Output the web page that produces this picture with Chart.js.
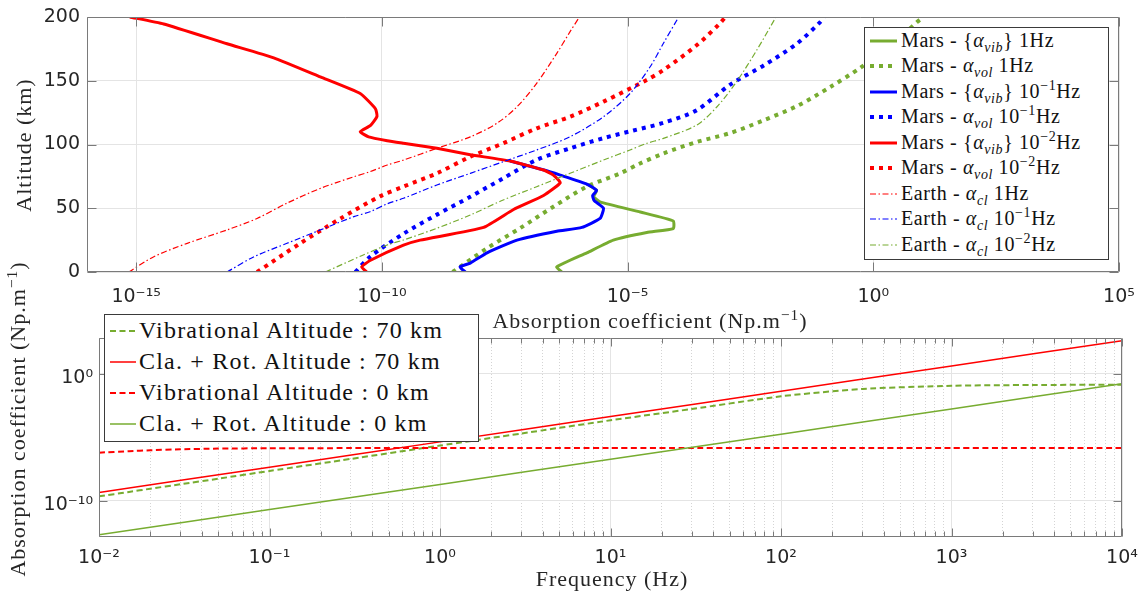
<!DOCTYPE html>
<html>
<head>
<meta charset="utf-8">
<title>Absorption coefficient - Mars / Earth</title>
<script src="https://cdn.jsdelivr.net/npm/chart.js@4.4.1/dist/chart.umd.min.js"></script>
<style>
  body { margin: 0; background: #fff; }
  #fig { position: relative; width: 1145px; height: 596px; overflow: hidden; background: #fff; }
  #fig canvas { position: absolute; left: 0; top: 0; }
  .lbl { position: absolute; font-family: 'Liberation Serif', serif; font-size: 22px; letter-spacing: 1px;
         color: #262626; white-space: nowrap; transform: translate(-50%, -50%); }
  .rot { transform: translate(-50%, -50%) rotate(-90deg); }
  .legend { position: absolute; background: #fff; border: 1px solid #3a3a3a; box-sizing: border-box;
            font-family: 'Liberation Serif', serif; color: #111; }
  .legend .row { position: absolute; white-space: nowrap; }
  .legend svg { position: absolute; }
  sub, sup { font-size: 70%; line-height: 0; }
</style>
</head>
<body>
<div id="fig">
  <canvas id="graficoTop" width="1145" height="596"></canvas>
  <canvas id="graficoBottom" width="1145" height="596"></canvas>

  <div class="lbl rot" style="left:24px; top:145px;">Altitude (km)</div>
  <div class="lbl" style="left:650px; top:321px;">Absorption coefficient (Np.m<sup>−1</sup>)</div>
  <div class="lbl" style="left:612px; top:579px;">Frequency (Hz)</div>
  <div class="lbl rot" style="left:18px; top:419px;">Absorption coefficient (Np.m<sup>−1</sup>)</div>

  <div id="legendTop" class="legend" style="left:864px; top:27px; width:245px; height:233px; font-size:20px; letter-spacing:0.6px;"></div>
  <div id="legendBottom" class="legend" style="left:104px; top:314px; width:375px; height:128px; font-size:24px; letter-spacing:1.2px;"></div>
</div>

<script>
// colores
const GREEN = '#77AC30'
const BLUE = '#0000FF'
const RED = '#FF0000'

// ---------- panel superior: altitud (km) / log10 del coeficiente (Np/m) ----------
// Mars - {alpha_vib} 1Hz (por encima de ~65 km sigue la curva de 10^-1 Hz)
const altVib1 = [0, 4, 15, 25, 31, 34, 40, 47, 55, 59, 64, 69]
const vib1 = [-6.34, -6.44, -5.83, -5.29, -4.61, -4.07, -4.07, -4.74, -5.56, -5.69, -5.63, -5.83]
// Mars - {alpha_vib} 10^-1 Hz (por encima de ~80 km sigue la curva de 10^-2 Hz)
const altVib01 = [0, 4, 7, 15, 25, 32, 35, 42, 50, 56, 60, 64, 69, 76, 80, 87]
const vib01 = [-8.30, -8.41, -8.20, -7.86, -7.25, -6.44, -5.93, -5.56, -5.49, -5.68, -5.71, -5.63, -5.83, -6.37, -6.70, -7.39]
// Mars - {alpha_vib} 10^-2 Hz
const altVib001 = [0, 4, 9, 21, 25, 35, 49, 60, 70, 76, 80, 87, 92, 97, 101, 103, 106, 110, 115, 122, 128, 140, 153, 168, 179, 194.5, 200]
const vib001 = [-10.31, -10.41, -10.24, -9.56, -9.22, -7.93, -7.32, -6.71, -6.37, -6.51, -6.71, -7.39, -8.20, -8.88, -9.56, -9.89, -10.27, -10.44, -10.23, -10.10, -10.13, -10.44, -11.25, -12.20, -13.15, -14.44, -15.13]

// Mars - alpha_vol
const altVol1 = [0, 18.6, 34.3, 51.2, 66.9, 77.4, 84.5, 93, 102, 109, 119, 130, 145, 160, 170, 180, 190, 196, 200]
const vol1 = [-8.56, -7.86, -7.19, -6.51, -5.83, -5.15, -4.78, -4.27, -3.59, -2.91, -2.23, -1.56, -0.88, -0.27, 0.07, 0.41, 0.72, 0.89, 1.02]
const altVol01 = [0, 12, 30, 45, 59, 73.5, 88, 97, 105, 111, 117, 127, 147, 162, 179, 196, 200]
const vol01 = [-10.54, -10.24, -9.56, -8.88, -8.20, -7.53, -6.85, -6.17, -5.49, -4.88, -4.27, -3.59, -2.91, -2.23, -1.56, -1.08, -1.01]
const altVol001 = [0, 22.5, 42, 59.5, 67, 77.4, 90.4, 101, 112.7, 121.8, 133.6, 150.6, 158.4, 178, 195, 200]
const vol001 = [-12.54, -11.66, -10.84, -10.03, -9.56, -8.88, -8.20, -7.53, -6.85, -6.17, -5.49, -4.61, -4.27, -3.59, -3.12, -3.01]

// Earth - alpha_cl
const altCl1 = [0, 12, 22.5, 33, 42, 54, 65.6, 74.7, 78.7, 83.9, 87.8, 97, 106, 116.6, 129.6, 148, 171.5, 188.5, 200]
const cl1 = [-15.15, -14.64, -13.96, -13.15, -12.54, -11.93, -11.25, -10.57, -10.24, -9.89, -9.56, -8.88, -8.20, -7.66, -7.25, -6.85, -6.44, -6.17, -5.98]
const altCl01 = [0, 12, 22.5, 33, 43.4, 47.3, 53.5, 57.8, 68.2, 77.4, 86.5, 95.7, 106.1, 121.8, 140, 161, 179.4, 200]
const cl01 = [-13.15, -12.60, -11.93, -11.25, -10.57, -10.24, -9.89, -9.56, -8.88, -8.20, -7.53, -6.85, -6.17, -5.49, -4.95, -4.54, -4.27, -3.96]
const altCl001 = [0, 13, 21.2, 25.1, 34.3, 44.7, 56.5, 66.9, 77.4, 87.8, 95.7, 100.9, 104.8, 115.3, 129.6, 149.3, 174.1, 200]
const cl001 = [-11.15, -10.40, -9.89, -9.56, -8.88, -8.20, -7.53, -6.85, -6.17, -5.49, -4.95, -4.61, -4.27, -3.59, -3.18, -2.78, -2.37, -1.98]

const topXTicks = [-15, -10, -5, 0, 5]
const topYTicks = [0, 50, 100, 150, 200]

// ---------- panel inferior: frecuencia (Hz) / log10 del coeficiente ----------
const freqDec = [0.01, 0.1, 1, 10, 100, 1000, 10000]
const claRot70 = [-9.35, -7.36, -5.37, -3.38, -1.38, 0.61, 2.60]
const claRot0 = [-12.68, -10.70, -8.72, -6.74, -4.76, -2.78, -0.79]
const freqVib = [0.01, 0.015, 0.02, 0.03, 0.05, 0.1, 0.3, 1, 3, 10, 30, 100, 300, 1000, 3000, 10000]
const vibAlt70 = [-9.66, -9.31, -9.06, -8.71, -8.27, -7.66, -6.71, -5.66, -4.71, -3.67, -2.78, -1.78, -1.20, -0.95, -0.89, -0.87]
const vibAlt0 = [-6.22, -6.10, -6.03, -5.95, -5.90, -5.87, -5.86, -5.85, -5.85, -5.85, -5.85, -5.85, -5.85, -5.85, -5.85, -5.85]

const botXTicks = [-2, -1, 0, 1, 2, 3, 4]
const botYTicks = [-10, 0]

// ---------- utilidades ----------
const SUP = {'-': '⁻', '0': '⁰', '1': '¹', '2': '²', '3': '³', '4': '⁴', '5': '⁵', '6': '⁶', '7': '⁷', '8': '⁸', '9': '⁹'}
const pow10Label = v => '10' + String(Math.round(Math.log10(v))).split('').map(c => SUP[c]).join('')
const isDecade = v => Math.abs(Math.log10(v) - Math.round(Math.log10(v))) < 1e-6
const profile = (alt, lg) => alt.map((a, i) => ({x: Math.pow(10, lg[i]), y: a}))
const spectrum = (f, lg) => f.map((v, i) => ({x: v, y: Math.pow(10, lg[i])}))

const TICK_FONT = {family: "'DejaVu Sans', sans-serif", size: 19}
const TICK_COLOR = '#262626'
const GRID = '#e4e4e4'

// marco y marcas interiores, estilo MATLAB
const framePlugin = {
  id: 'frame',
  afterDraw(chart, args, opts) {
    const {ctx, chartArea: a, scales} = chart
    const L = Math.round(a.left) + 0.5, R = Math.round(a.right) - 0.5
    const T = Math.round(a.top) + 0.5, B = Math.round(a.bottom) - 0.5
    ctx.save()
    ctx.strokeStyle = opts.color
    ctx.lineWidth = 1
    ctx.beginPath()
    scales.x.ticks.forEach(t => {
      const p = Math.round(scales.x.getPixelForValue(t.value)) + 0.5
      const len = opts.minorX && !isDecade(t.value) ? opts.minor : opts.major
      ctx.moveTo(p, B); ctx.lineTo(p, B - len)
      ctx.moveTo(p, T); ctx.lineTo(p, T + len)
    })
    scales.y.ticks.forEach(t => {
      const p = Math.round(scales.y.getPixelForValue(t.value)) + 0.5
      ctx.moveTo(L, p); ctx.lineTo(L + opts.major, p)
      ctx.moveTo(R, p); ctx.lineTo(R - opts.major, p)
    })
    ctx.rect(L, T, R - L, B - T)
    ctx.stroke()
    ctx.restore()
  }
}

const STYLE = {
  vib: {borderWidth: 3, borderDash: [], tension: 0.15},
  vol: {borderWidth: 4, borderDash: [4, 5], tension: 0.3},
  cl: {borderWidth: 1.2, borderDash: [6, 2.5, 1.5, 2.5], tension: 0.3}
}

const topSeries = [
  {label: 'Mars - {α_vib} 1Hz', html: 'Mars - {<i>α</i><sub><i>vib</i></sub>} 1Hz', data: profile(altVib1, vib1), color: GREEN, kind: 'vib'},
  {label: 'Mars - α_vol 1Hz', html: 'Mars - <i>α</i><sub><i>vol</i></sub> 1Hz', data: profile(altVol1, vol1), color: GREEN, kind: 'vol'},
  {label: 'Mars - {α_vib} 10^-1Hz', html: 'Mars - {<i>α</i><sub><i>vib</i></sub>} 10<sup>−1</sup>Hz', data: profile(altVib01, vib01), color: BLUE, kind: 'vib'},
  {label: 'Mars - α_vol 10^-1Hz', html: 'Mars - <i>α</i><sub><i>vol</i></sub> 10<sup>−1</sup>Hz', data: profile(altVol01, vol01), color: BLUE, kind: 'vol'},
  {label: 'Mars - {α_vib} 10^-2Hz', html: 'Mars - {<i>α</i><sub><i>vib</i></sub>} 10<sup>−2</sup>Hz', data: profile(altVib001, vib001), color: RED, kind: 'vib'},
  {label: 'Mars - α_vol 10^-2Hz', html: 'Mars - <i>α</i><sub><i>vol</i></sub> 10<sup>−2</sup>Hz', data: profile(altVol001, vol001), color: RED, kind: 'vol'},
  {label: 'Earth - α_cl 1Hz', html: 'Earth - <i>α</i><sub><i>cl</i></sub> 1Hz', data: profile(altCl1, cl1), color: RED, kind: 'cl'},
  {label: 'Earth - α_cl 10^-1Hz', html: 'Earth - <i>α</i><sub><i>cl</i></sub> 10<sup>−1</sup>Hz', data: profile(altCl01, cl01), color: BLUE, kind: 'cl'},
  {label: 'Earth - α_cl 10^-2Hz', html: 'Earth - <i>α</i><sub><i>cl</i></sub> 10<sup>−2</sup>Hz', data: profile(altCl001, cl001), color: GREEN, kind: 'cl'}
]

const bottomSeries = [
  {label: 'Vibrational Altitude : 70 km', data: spectrum(freqVib, vibAlt70), color: GREEN, width: 2, dash: [6, 3.5]},
  {label: 'Cla. + Rot. Altitude : 70 km', data: spectrum(freqDec, claRot70), color: RED, width: 1.5, dash: []},
  {label: 'Vibrational Altitude : 0 km', data: spectrum(freqVib, vibAlt0), color: RED, width: 2, dash: [6, 3.5]},
  {label: 'Cla. + Rot. Altitude : 0 km', data: spectrum(freqDec, claRot0), color: GREEN, width: 1.5, dash: []}
]

// ejes con tamaño fijo para que el área de trazado quede donde debe
const fixY = w => s => { s.width = w; s.paddingTop = 0; s.paddingBottom = 0 }
const fixX = h => s => { s.height = h; s.paddingLeft = 0; s.paddingRight = 0 }

const baseOptions = {
  responsive: false,
  animation: false,
  devicePixelRatio: 1,
  plugins: {legend: {display: false}, tooltip: {enabled: false}},
  elements: {point: {radius: 0}}
}

// Generar gráfico superior
const generateTopChart = () => {
  const canvas = document.getElementById('graficoTop')
  return new Chart(canvas, {
    type: 'scatter',
    data: {
      datasets: topSeries.map((s, i) => ({
        label: s.label,
        data: s.data,
        showLine: true,
        borderColor: s.color,
        backgroundColor: s.color,
        borderWidth: STYLE[s.kind].borderWidth,
        borderDash: STYLE[s.kind].borderDash,
        tension: STYLE[s.kind].tension,
        pointRadius: 0,
        order: topSeries.length - i
      }))
    },
    options: {
      ...baseOptions,
      layout: {autoPadding: false, padding: {left: 0, top: 17, right: 26, bottom: 274}},
      scales: {
        x: {
          type: 'logarithmic',
          min: 1e-16,
          max: 1e5,
          bounds: 'data',
          afterBuildTicks: s => { s.ticks = topXTicks.map(e => ({value: Math.pow(10, e)})) },
          afterFit: fixX(50),
          ticks: {callback: v => pow10Label(v), font: TICK_FONT, color: TICK_COLOR, padding: 14, maxRotation: 0, autoSkip: false},
          grid: {color: GRID, drawTicks: false},
          border: {display: false}
        },
        y: {
          type: 'linear',
          min: 0,
          max: 200,
          afterBuildTicks: s => { s.ticks = topYTicks.map(v => ({value: v})) },
          afterFit: fixY(87),
          ticks: {font: TICK_FONT, color: TICK_COLOR, padding: 7},
          grid: {color: GRID, drawTicks: false},
          border: {display: false}
        }
      },
      plugins: {...baseOptions.plugins, frame: {color: '#7a7a7a', major: 9, minor: 5}}
    },
    plugins: [framePlugin]
  })
}

// Generar gráfico inferior
const generateBottomChart = () => {
  const canvas = document.getElementById('graficoBottom')
  return new Chart(canvas, {
    type: 'scatter',
    data: {
      datasets: bottomSeries.map((s, i) => ({
        label: s.label,
        data: s.data,
        showLine: true,
        borderColor: s.color,
        backgroundColor: s.color,
        borderWidth: s.width,
        borderDash: s.dash,
        tension: 0.2,
        pointRadius: 0,
        order: bottomSeries.length - i
      }))
    },
    options: {
      ...baseOptions,
      layout: {autoPadding: false, padding: {left: 0, top: 338, right: 23, bottom: 9}},
      scales: {
        x: {
          type: 'logarithmic',
          min: 1e-2,
          max: 1e4,
          bounds: 'data',
          afterBuildTicks: s => {
            const t = []
            botXTicks.forEach(e => {
              for (let m = 1; m <= 9; m++) {
                if (e === botXTicks[botXTicks.length - 1] && m > 1) break
                t.push({value: m * Math.pow(10, e)})
              }
            })
            s.ticks = t
          },
          afterFit: fixX(50),
          ticks: {callback: v => isDecade(v) ? pow10Label(v) : '', font: TICK_FONT, color: TICK_COLOR, padding: 10, maxRotation: 0, autoSkip: false},
          grid: {color: c => c.tick && isDecade(c.tick.value) ? GRID : '#d4d4d4', drawTicks: false},
          border: {display: false, dash: c => c.tick && !isDecade(c.tick.value) ? [1, 2] : []}
        },
        y: {
          type: 'logarithmic',
          min: Math.pow(10, -12.86),
          max: Math.pow(10, 2.81),
          bounds: 'data',
          afterBuildTicks: s => { s.ticks = botYTicks.map(e => ({value: Math.pow(10, e)})) },
          afterFit: fixY(99),
          ticks: {callback: v => pow10Label(v), font: TICK_FONT, color: TICK_COLOR, padding: 6, labelOffset: 4},
          grid: {color: GRID, drawTicks: false},
          border: {display: false}
        }
      },
      plugins: {...baseOptions.plugins, frame: {color: '#7a7a7a', major: 8, minor: 5, minorX: true}}
    },
    plugins: [framePlugin]
  })
}

// leyenda HTML (texto con subíndices como en LaTeX)
const buildLegend = (el, chart, htmlLabels, rowTop, rowGap, sampleX, sampleW, textX) => {
  chart.data.datasets.forEach((ds, i) => {
    const y = rowTop + i * rowGap
    const svg = document.createElementNS('http://www.w3.org/2000/svg', 'svg')
    svg.setAttribute('width', sampleW)
    svg.setAttribute('height', 10)
    svg.style.left = sampleX + 'px'
    svg.style.top = (y - 5) + 'px'
    const ln = document.createElementNS('http://www.w3.org/2000/svg', 'line')
    ln.setAttribute('x1', 0); ln.setAttribute('x2', sampleW)
    ln.setAttribute('y1', 5); ln.setAttribute('y2', 5)
    ln.setAttribute('stroke', ds.borderColor)
    ln.setAttribute('stroke-width', ds.borderWidth)
    if (ds.borderDash.length) ln.setAttribute('stroke-dasharray', ds.borderDash.join(' '))
    svg.appendChild(ln)
    el.appendChild(svg)
    const row = document.createElement('div')
    row.className = 'row'
    row.style.left = textX + 'px'
    row.style.top = (y - rowGap / 2) + 'px'
    row.style.height = rowGap + 'px'
    row.style.lineHeight = rowGap + 'px'
    row.innerHTML = htmlLabels[i]
    el.appendChild(row)
  })
}

const topChart = generateTopChart()
const bottomChart = generateBottomChart()
buildLegend(document.getElementById('legendTop'), topChart, topSeries.map(s => s.html), 12.5, 25.5, 5, 27, 36)
buildLegend(document.getElementById('legendBottom'), bottomChart, bottomSeries.map(s => s.label), 15.5, 31, 5, 26, 34)
</script>
</body>
</html>
